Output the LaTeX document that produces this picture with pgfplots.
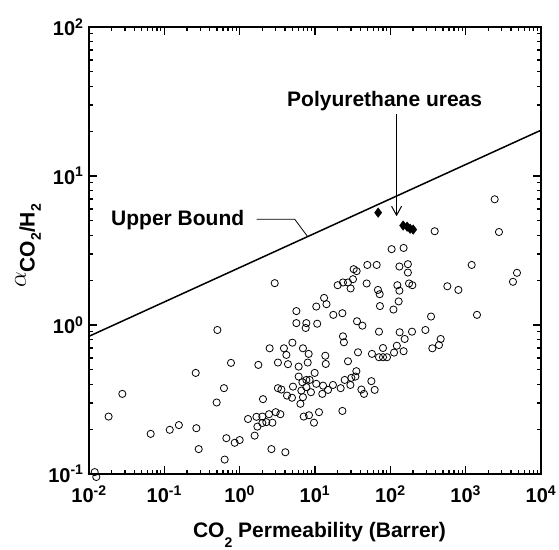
\documentclass[border=0pt]{standalone}
\usepackage{pgfplots}
\pgfplotsset{compat=1.18}
\usepackage{pgfplotstable}
\usepackage{fontspec}
\setmainfont{Liberation Sans}
\usetikzlibrary{calc,arrows.meta}

\pgfplotstableread{
x y
2.92 1.91
5.66 1.24
10.4 1.33
5.66 1.03
7.68 1.03
10.7 1.02
0.506 0.926
2427 6.98
388 4.26
2767 4.21
104 3.23
150 3.29
49.5 2.53
65.9 2.53
132 2.47
171 2.56
171 2.25
32.6 2.37
35.7 2.30
1202 2.53
4800 2.24
4246 1.95
20.0 1.85
23.5 1.93
27.4 1.93
31.9 2.03
29.7 1.76
48.5 1.90
68.5 1.72
72.2 1.61
124 1.85
132 1.70
177 1.90
196 1.85
571 1.82
800 1.72
13.2 1.52
14.2 1.38
72.8 1.34
129 1.44
110 1.27
17.5 1.17
23.1 1.20
36.1 1.06
42.6 0.99
347 1.14
1413 1.17
7.52 0.955
5.01 0.761
3.87 0.698
2.50 0.698
6.92 0.698
4.17 0.630
8.24 0.640
0.767 0.557
1.77 0.540
3.22 0.560
4.38 0.546
8.0 0.560
6.07 0.526
0.261 0.477
9.90 0.477
6.07 0.451
5.10 0.386
6.80 0.413
7.68 0.428
8.49 0.428
10.4 0.403
3.22 0.377
3.58 0.369
4.25 0.336
4.95 0.325
6.59 0.363
7.68 0.383
8.84 0.354
6.92 0.328
6.40 0.296
0.619 0.377
2.04 0.318
0.495 0.302
0.0277 0.345
0.0182 0.243
0.0659 0.186
0.118 0.198
0.156 0.213
0.266 0.203
0.286 0.147
0.666 0.174
0.859 0.162
1.0 0.169
0.632 0.125
1.29 0.234
1.67 0.242
2.00 0.243
2.45 0.252
3.01 0.260
3.47 0.252
1.72 0.208
2.00 0.220
2.26 0.223
2.72 0.221
1.58 0.181
2.64 0.147
4.04 0.140
7.08 0.243
8.32 0.248
9.69 0.221
11.3 0.260
0.0119 0.103
0.0125 0.0955
70.7 0.902
133 0.894
194 0.902
292 0.926
23.5 0.840
24.2 0.766
155 0.806
122 0.726
79.9 0.701
150 0.667
466 0.806
442 0.734
361 0.698
112 0.653
57.0 0.640
70.7 0.608
79.9 0.608
90.2 0.608
37.2 0.656
13.7 0.622
13.9 0.548
27.4 0.571
35.4 0.490
34.4 0.451
30.4 0.442
24.8 0.428
29.5 0.396
56.0 0.420
62.0 0.367
41.3 0.369
44.7 0.345
21.9 0.377
17.3 0.396
12.8 0.392
14.9 0.367
12.5 0.345
23.1 0.265
}\circdata

\pgfplotstableread{
x y
68.9 5.68
148 4.65
167 4.57
183 4.43
201 4.37
}\pudata

\begin{document}
\begin{tikzpicture}
\begin{pgfinterruptboundingbox}
\begin{axis}[
  name=ax,
  scale only axis,
  width=452pt, height=447pt,
  xmode=log, ymode=log,
  xmin=0.01, xmax=10000, ymin=0.1, ymax=100,
  axis line style={line width=1.6pt},
  tick style={line width=1.2pt, black},
  major tick length=8pt, minor tick length=4.5pt,
  tick align=inside,
  xtick={0.01,0.1,1,10,100,1000,10000},
  xticklabels={10\textsuperscript{-2},10\textsuperscript{-1},10\textsuperscript{0},10\textsuperscript{1},10\textsuperscript{2},10\textsuperscript{3},10\textsuperscript{4}},
  ytick={0.1,1,10,100},
  yticklabels={10\textsuperscript{-1},10\textsuperscript{0},10\textsuperscript{1},10\textsuperscript{2}},
  ticklabel style={font=\fontsize{20}{22}\selectfont\bfseries},
  xticklabel style={yshift=-8pt},
  yticklabel style={xshift=-2pt},
  xlabel={CO\raisebox{-0.45em}{\fontsize{14}{14}\selectfont 2} Permeability (Barrer)},
  xlabel style={font=\fontsize{21}{24}\selectfont\bfseries, at={(axis description cs:0.51,-0.143)}, anchor=base},
  ylabel={{\fontsize{26}{26}\selectfont$\alpha$}\raisebox{-0.42em}{CO\raisebox{-0.3em}{\fontsize{14}{14}\selectfont 2}/H\raisebox{-0.3em}{\fontsize{14}{14}\selectfont 2}}},
  ylabel style={font=\fontsize{21}{24}\selectfont\bfseries, at={(axis description cs:-0.135,0.51)}, anchor=center, rotate=0},
  clip=false,
]
\addplot[black, line width=1.5pt] coordinates {(0.01,0.84) (10000,20.3)};
\addplot[only marks, mark=o, mark size=3.6pt, mark options={line width=0.8pt, black}] table[x=x,y=y] {\circdata};
\addplot[only marks, mark=diamond*, mark size=4.8pt, black] table[x=x,y=y] {\pudata};
\node[anchor=base east, font=\fontsize{21}{24}\selectfont\bfseries] at (axis cs:1.28,4.67) {Upper Bound};
\draw[line width=0.8pt] (axis cs:1.68,5.13) -- (axis cs:5.37,5.13) -- (axis cs:8.0,3.92);
\node[anchor=base, font=\fontsize{21}{24}\selectfont\bfseries] at (axis cs:84.1,29.3) {Polyurethane ureas};
\draw[line width=0.8pt, -{Straight Barb[length=9pt,width=10pt,line width=1pt]}] (axis cs:121,25.9) -- (axis cs:121,5.37);
\end{axis}
\end{pgfinterruptboundingbox}
\path ($(ax.south west)+(-89pt,-75pt)$) rectangle ($(ax.north east)+(18pt,27pt)$);
\end{tikzpicture}
\end{document}
